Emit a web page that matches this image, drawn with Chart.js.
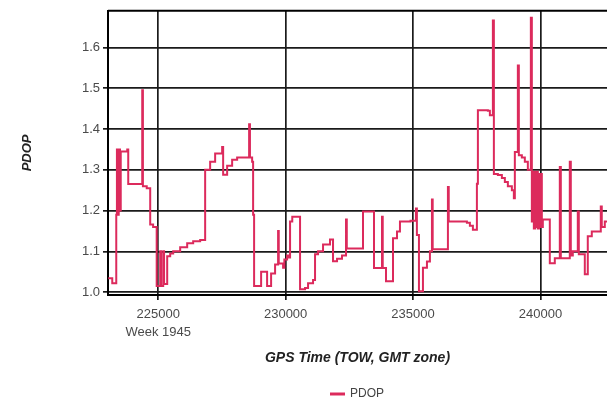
<!DOCTYPE html>
<html>
<head>
<meta charset="utf-8">
<script src="https://cdn.jsdelivr.net/npm/chart.js@4.4.0/dist/chart.umd.min.js"></script>
<style>
  body { margin: 0; background: #fff; overflow: hidden; }
  #wrap { width: 607px; height: 404px; }
</style>
</head>
<body>
<div id="wrap"><canvas id="pdopChart" width="607" height="404"></canvas></div>
<script>
// GPS time of week (s) where PDOP changes, and the new PDOP value
const gpsTime = [
  223040, 223197, 223354, 223380, 223420, 223450, 223500, 223530, 223785, 223824,
  224373, 224400, 224550, 224686, 224800, 224940, 225078, 225110, 225196, 225230,
  225353, 225470, 225588, 225862, 226137, 226372, 226646, 226842, 227038, 227234,
  227509, 227548, 227705, 227901, 228097, 228567, 228600, 228685, 228724, 228763,
  229038, 229273, 229430, 229586, 229704, 229730, 229900, 229950, 230057, 230096,
  230174, 230260, 230566, 230762, 230880, 231076, 231154, 231272, 231468, 231742,
  231860, 232017, 232213, 232370, 232400, 233036, 233468, 233781, 233810, 233938,
  234212, 234369, 234486, 234900, 235114, 235150, 235231, 235388, 235545, 235662,
  235741, 235770, 236368, 236400, 237113, 237230, 237348, 237505, 237544, 237936,
  238014, 238132, 238171, 238328, 238485, 238602, 238720, 238877, 238955, 238994,
  239112, 239151, 239269, 239386, 239504, 239622, 239661, 239700, 239739, 239790,
  239818, 239860, 239896, 239940, 239974, 240010, 240053, 240092, 240366, 240562,
  240758, 240798, 241150, 241190, 241268, 241464, 241504, 241739, 241856, 242013,
  242366, 242405, 242523, 242601
];
const pdop = [
  1.034, 1.022, 1.19, 1.35, 1.19, 1.35, 1.20, 1.345, 1.35, 1.265,
  1.495, 1.26, 1.255, 1.166, 1.16, 1.015, 1.10, 1.015, 1.10, 1.02,
  1.088, 1.095, 1.10, 1.11, 1.12, 1.125, 1.128, 1.30, 1.32, 1.34,
  1.356, 1.288, 1.31, 1.325, 1.33, 1.412, 1.33, 1.32, 1.19, 1.015,
  1.05, 1.015, 1.046, 1.068, 1.15, 1.07, 1.06, 1.08, 1.09, 1.085,
  1.173, 1.185, 1.007, 1.01, 1.022, 1.03, 1.093, 1.10, 1.117, 1.129,
  1.076, 1.082, 1.09, 1.178, 1.107, 1.198, 1.059, 1.185, 1.059, 1.027,
  1.132, 1.149, 1.173, 1.175, 1.205, 1.14, 1.002, 1.06, 1.075, 1.10,
  1.227, 1.105, 1.258, 1.173, 1.17, 1.163, 1.153, 1.266, 1.446, 1.445,
  1.434, 1.666, 1.29, 1.287, 1.28, 1.27, 1.26, 1.25, 1.23, 1.344,
  1.556, 1.336, 1.33, 1.32, 1.30, 1.673, 1.173, 1.295, 1.156, 1.295,
  1.16, 1.295, 1.156, 1.29, 1.16, 1.29, 1.16, 1.178, 1.071, 1.083,
  1.307, 1.083, 1.32, 1.09, 1.10, 1.198, 1.093, 1.044, 1.137, 1.149,
  1.21, 1.16, 1.173, 1.175
];
const xTicks = [225000, 230000, 235000, 240000];
const yTicks = [1.0, 1.1, 1.2, 1.3, 1.4, 1.5, 1.6];
const weekLabel = 'Week 1945';

const lineColor = '#dc2a5c';

// top border of the plot frame, legend centred under the plot
const frameTop = {
  id: 'frameTop',
  afterLayout(chart) {
    chart.legend.left = chart.chartArea.left;
    chart.legend.right = chart.chartArea.right;
  },
  afterDraw(chart) {
    const a = chart.chartArea;
    const c = chart.ctx;
    c.save();
    c.strokeStyle = '#000';
    c.lineWidth = 2;
    c.beginPath();
    c.moveTo(a.left, a.top);
    c.lineTo(a.right, a.top);
    c.stroke();
    c.restore();
  }
};

const points = gpsTime.map((t, i) => ({ x: t, y: pdop[i] }));

const ctx = document.getElementById('pdopChart').getContext('2d');
const pdopChart = new Chart(ctx, {
  type: 'line',
  data: {
    datasets: [{
      label: 'PDOP',
      data: points,
      borderColor: lineColor,
      backgroundColor: lineColor,
      borderWidth: 2,
      stepped: true,
      pointRadius: 0,
      tension: 0
    }]
  },
  options: {
    responsive: false,
    animation: false,
    layout: { padding: { top: 10, right: 0, left: 0, bottom: -6 } },
    plugins: {
      legend: {
        position: 'bottom',
        labels: {
          boxWidth: 13,
          boxHeight: 1,
          padding: 5,
          color: '#444',
          font: { family: 'Liberation Sans, Arial, sans-serif', size: 12 }
        }
      },
      tooltip: { enabled: false }
    },
    scales: {
      x: {
        type: 'linear',
        min: 223030,
        max: 242610,
        afterFit: (scale) => { scale.height = 88; },
        afterBuildTicks: (axis) => { axis.ticks = xTicks.map(v => ({ value: v })); },
        grid: { color: '#1a1a1a', lineWidth: 1.7, tickLength: 5 },
        border: { color: '#000', width: 2 },
        ticks: {
          padding: 5,
          color: '#4a4a4a',
          maxRotation: 0,
          font: { family: 'Liberation Sans, Arial, sans-serif', size: 13, lineHeight: 1.4 },
          callback: (v) => v === xTicks[0] ? [String(v), weekLabel] : String(v)
        },
        title: {
          display: true,
          text: 'GPS Time (TOW, GMT zone)',
          color: '#222',
          padding: { top: 4, bottom: 16 },
          font: { family: 'Liberation Sans, Arial, sans-serif', size: 14, weight: 'bold', style: 'italic' }
        }
      },
      y: {
        min: 0.993,
        max: 1.69,
        afterFit: (scale) => { scale.width = 108; },
        afterBuildTicks: (axis) => { axis.ticks = yTicks.map(v => ({ value: v })); },
        grid: { color: '#1a1a1a', lineWidth: 1.7, tickLength: 5 },
        border: { color: '#000', width: 2 },
        ticks: {
          padding: 3,
          color: '#4a4a4a',
          font: { family: 'Liberation Sans, Arial, sans-serif', size: 13 },
          callback: (v) => v.toFixed(1)
        },
        title: {
          display: true,
          text: 'PDOP',
          color: '#222',
          padding: { top: 20, bottom: 0 },
          font: { family: 'Liberation Sans, Arial, sans-serif', size: 13, weight: 'bold', style: 'italic' }
        }
      }
    }
  },
  plugins: [frameTop]
});
</script>
</body>
</html>
